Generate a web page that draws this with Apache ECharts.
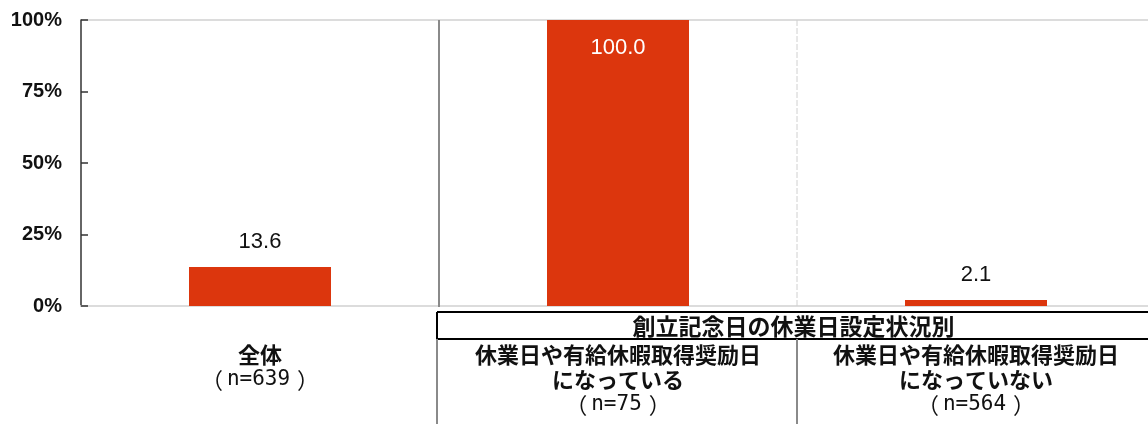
<!DOCTYPE html>
<html>
<head>
<meta charset="utf-8">
<script src="https://cdn.jsdelivr.net/npm/echarts@6/dist/echarts.min.js"></script>
<style>
html,body{margin:0;padding:0;background:#fff;overflow:hidden;}
#chart{width:1155px;height:424px;}
</style>
</head>
<body>
<div id="chart"></div>
<script>
const categories = ['全体', '休業日や有給休暇取得奨励日\nになっている', '休業日や有給休暇取得奨励日\nになっていない'];
const sampleSizes = ['n=639', 'n=75', 'n=564'];
const values = [13.6, 100.0, 2.1];
const groupTitle = '創立記念日の休業日設定状況別';
const yTickValues = [0, 25, 50, 75, 100];

const CJK = '"Noto Sans CJK JP", sans-serif';
const LAT = '"Liberation Sans", Arial, sans-serif';
const MONO = '"DejaVu Sans Mono", "Liberation Mono", monospace';
const VIEW_W = 1148, H = 424;
const chart = echarts.init(document.getElementById('chart'), null, {renderer: 'canvas'});

const option = {
  animation: false,
  grid: {left: 81, right: 0, top: 20, bottom: 118, containLabel: false},
  xAxis: {
    type: 'category',
    data: categories,
    axisLine: {show: true, lineStyle: {color: '#dcdcdc', width: 2}},
    axisTick: {show: false},
    axisLabel: {
      margin: 36,
      interval: 0,
      verticalAlign: 'top',
      formatter: (v, i) => v.split('\n').map(s => '{t|' + s + '}').join('\n') +
        '\n{pl|（}{n|' + sampleSizes[i] + '}{pr|）}',
      rich: {
        t: {fontFamily: CJK, fontWeight: 'bold', fontSize: 22, lineHeight: 25, color: '#111'},
        pl: {fontFamily: CJK, fontWeight: 'normal', fontSize: 22, lineHeight: 25, color: '#111', padding: [0, 4, 0, 0]},
        pr: {fontFamily: CJK, fontWeight: 'normal', fontSize: 22, lineHeight: 25, color: '#111', padding: [0, 0, 0, 7]},
        n: {fontFamily: MONO, fontWeight: 'normal', fontSize: 21, lineHeight: 25, color: '#111'}
      }
    },
    splitLine: {show: false}
  },
  yAxis: {
    type: 'value',
    min: 0, max: 100, interval: 25,
    axisLine: {show: true, lineStyle: {color: '#333', width: 1.5}},
    axisTick: {show: true, inside: true, length: 7, lineStyle: {color: '#333', width: 1.5}},
    axisLabel: {
      margin: 19,
      fontFamily: LAT, fontWeight: 'bold', fontSize: 20, color: '#111',
      formatter: v => yTickValues.includes(v) ? v + '%' : ''
    },
    splitLine: {show: true, lineStyle: {color: ['transparent', 'transparent', 'transparent', 'transparent', '#dcdcdc'], width: 2}}
  },
  series: [{
    type: 'bar',
    data: values.map((v, i) => ({
      value: v,
      label: i === 1 ? {position: 'insideTop', distance: 17, color: '#fff'} : {position: 'top', distance: 14, color: '#111'}
    })),
    barWidth: 142,
    itemStyle: {color: '#dc360d'},
    label: {show: true, fontFamily: LAT, fontSize: 22, formatter: p => p.value.toFixed(1)}
  }]
};
chart.setOption(option);

const g = chart.getModel().getComponent('grid').coordinateSystem.getRect();
const bandW = g.width / categories.length;
const xSep1 = g.x + bandW;
const xSep2 = g.x + 2 * bandW;
const yTop = g.y, yBot = g.y + g.height;
const tableTop = yBot + 6, headBot = yBot + 33;
const graphics = [
  {type: 'line', shape: {x1: xSep1, y1: yTop, x2: xSep1, y2: yBot + 1}, style: {stroke: '#8a8a8a', lineWidth: 2}, z: 1},
  {type: 'line', shape: {x1: xSep2, y1: yTop, x2: xSep2, y2: yBot}, style: {stroke: '#d0d0d0', lineWidth: 1, lineDash: [6, 2]}, z: 1},
  {type: 'line', shape: {x1: xSep1 - 2, y1: tableTop, x2: VIEW_W, y2: tableTop}, style: {stroke: '#000', lineWidth: 2}},
  {type: 'line', shape: {x1: xSep1 - 2, y1: headBot, x2: VIEW_W, y2: headBot}, style: {stroke: '#000', lineWidth: 2}},
  {type: 'line', shape: {x1: xSep1 - 2, y1: tableTop, x2: xSep1 - 2, y2: headBot}, style: {stroke: '#000', lineWidth: 2}},
  {type: 'line', shape: {x1: xSep1 - 2, y1: headBot, x2: xSep1 - 2, y2: H}, style: {stroke: '#8a8a8a', lineWidth: 2}},
  {type: 'line', shape: {x1: xSep2, y1: headBot, x2: xSep2, y2: H}, style: {stroke: '#8a8a8a', lineWidth: 2}},
  {type: 'text', x: (xSep1 + VIEW_W) / 2, y: (tableTop + headBot) / 2 + 1,
   style: {text: groupTitle, fontFamily: CJK, fontWeight: 'bold', fontSize: 23, fill: '#111', align: 'center', verticalAlign: 'middle'}}
];
chart.setOption({graphic: graphics});
</script>
</body>
</html>
